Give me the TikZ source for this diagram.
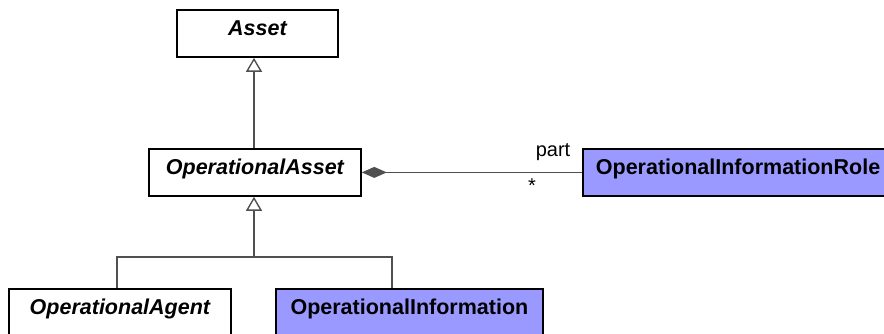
\documentclass[tikz,border=0pt]{standalone}
\usepackage{fontspec}
\setmainfont{Liberation Sans}
\usetikzlibrary{arrows.meta}
\definecolor{infoblue}{RGB}{153,153,255}
\definecolor{linegray}{RGB}{80,80,80}
\tikzset{
  cls/.style={draw=black, line width=1.8pt, inner sep=0pt, anchor=north west,
    text height=26pt, text depth=21pt, font=\fontsize{21.5}{25}\selectfont\bfseries},
  abstractcls/.style={cls, fill=white, font=\fontsize{21.5}{25}\selectfont\bfseries\itshape},
  infocls/.style={cls, fill=infoblue},
  conn/.style={draw=linegray, line width=1.5pt},
  gen/.style={conn, -{Triangle[open, length=14pt, width=16pt, line width=1.4pt]}},
  comp/.style={conn, {Diamond[length=25pt, width=11pt, fill=linegray, color=linegray]}-},
  lbl/.style={font=\fontsize{20}{24}\selectfont, inner sep=0pt}
}
\begin{document}
\begin{tikzpicture}[x=1pt, y=-1pt]
\useasboundingbox (0,0) rectangle (884,333);
\node[abstractcls, minimum width=161pt] (asset) at (176,9) {Asset};
\node[abstractcls, minimum width=212pt] (opasset) at (148,148) {OperationalAsset};
\node[infocls, minimum width=310pt, text width=300pt, align=left] (role) at (582,148) {\hspace*{8pt}OperationalInformationRole};
\node[abstractcls, minimum width=222pt] (agent) at (8,288) {OperationalAgent};
\node[infocls, minimum width=267pt] (info) at (275,288) {OperationalInformation};
\coordinate (j) at (254,257);
\coordinate (ja) at (117,257);
\coordinate (ji) at (392,257);
\draw[gen] (opasset.north -| j) -- (asset.south -| j);
\draw[gen] (j) -- (opasset.south -| j);
\draw[conn] (ja |- agent.north) -- (ja) -- (ji) -- (ji |- info.north);
\draw[comp] (opasset.east) -- (role.west);
\node[lbl, anchor=base] (part) at (553,156) {part};
\node[lbl, anchor=center] (mult) at (532,186) {*};
\end{tikzpicture}
\end{document}
